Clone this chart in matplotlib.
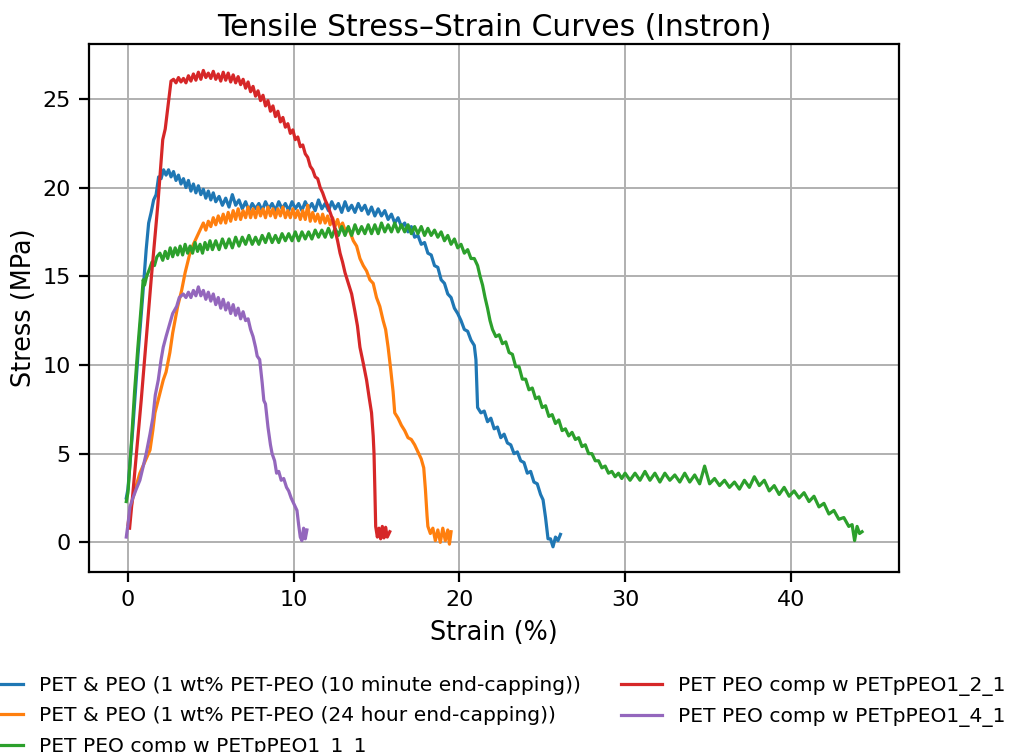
import matplotlib
matplotlib.use("Agg")
import matplotlib.pyplot as plt
import numpy as np

# Curves: (strain %, stress MPa)
blue = [
    (-0.1, 2.5), (0.0, 3.0), (0.3, 6.5), (0.6, 10.5), (0.9, 14.0), (1.1, 16.5), (1.25, 18.0),
    (1.4, 18.6), (1.55, 19.3), (1.7, 19.6), (1.85, 20.6), (2.0, 20.5), (2.15, 21.0), (2.3, 20.7),
    (2.45, 21.0), (2.6, 20.6), (2.75, 20.9), (2.9, 20.4), (3.05, 20.7), (3.2, 20.2), (3.35, 20.5),
    (3.5, 20.0), (3.65, 20.4), (3.8, 19.8), (3.95, 20.2), (4.1, 19.7), (4.25, 20.1), (4.4, 19.6),
    (4.55, 19.9), (4.7, 19.4), (4.85, 19.8), (5.0, 19.3), (5.15, 19.7), (5.3, 19.2), (5.5, 19.5),
    (5.7, 19.0), (5.9, 19.4), (6.1, 18.9), (6.3, 19.6), (6.5, 19.0), (6.7, 19.3), (6.9, 18.8),
    (7.1, 19.2), (7.3, 18.7), (7.5, 19.1), (7.7, 18.8), (7.9, 19.1), (8.1, 18.7), (8.3, 19.2),
    (8.5, 18.8), (8.7, 19.1), (8.9, 18.7), (9.1, 19.2), (9.3, 18.8), (9.5, 19.1), (9.7, 18.7),
    (9.9, 19.2), (10.1, 18.8), (10.3, 19.1), (10.5, 18.7), (10.7, 19.2), (10.9, 18.8), (11.1, 19.1),
    (11.3, 18.7), (11.5, 19.3), (11.7, 18.8), (11.9, 19.1), (12.1, 18.7), (12.3, 19.2), (12.5, 18.8),
    (12.7, 19.1), (12.9, 18.6), (13.1, 19.2), (13.3, 18.7), (13.5, 19.0), (13.7, 18.6), (13.9, 19.1),
    (14.1, 18.7), (14.3, 19.0), (14.5, 18.5), (14.7, 18.9), (14.9, 18.4), (15.1, 18.8), (15.3, 18.4),
    (15.5, 18.7), (15.7, 18.2), (15.9, 18.5), (16.1, 18.0), (16.3, 18.3), (16.5, 17.8), (16.7, 18.0),
    (16.9, 17.5), (17.1, 17.8), (17.3, 17.2), (17.5, 17.3), (17.7, 16.8), (17.9, 16.9), (18.1, 16.3),
    (18.3, 16.2), (18.5, 15.6), (18.7, 15.5), (18.9, 14.8), (19.1, 14.6), (19.3, 14.0), (19.5, 13.8),
    (19.7, 13.2), (19.9, 12.9), (20.1, 12.5), (20.3, 12.0), (20.5, 11.9), (20.7, 11.4), (20.9, 11.1),
    (21.0, 10.3), (21.05, 9.0), (21.1, 7.6), (21.3, 7.3), (21.5, 7.4), (21.7, 6.8), (21.9, 7.0),
    (22.1, 6.4), (22.3, 6.5), (22.5, 5.9), (22.7, 6.1), (22.9, 5.6), (23.1, 5.5), (23.3, 5.0),
    (23.5, 5.1), (23.7, 4.6), (23.9, 4.5), (24.1, 3.9), (24.3, 4.0), (24.5, 3.4), (24.7, 3.3),
    (24.9, 2.7), (25.05, 2.4), (25.2, 1.4), (25.35, 0.2), (25.5, 0.2), (25.65, -0.25), (25.8, 0.3),
    (25.95, 0.1), (26.1, 0.45),
]

orange = [
    (0.0, 1.0), (0.1, 1.6), (0.3, 2.5), (0.5, 3.2), (0.72, 3.9), (1.0, 4.5), (1.33, 5.2), (1.5, 6.3),
    (1.63, 7.3), (1.9, 8.3), (2.13, 9.15), (2.3, 9.6), (2.53, 10.7), (2.7, 11.8), (2.84, 12.5),
    (3.0, 13.3), (3.24, 14.2), (3.45, 15.2), (3.74, 16.3), (3.95, 16.8), (4.15, 17.2), (4.35, 17.6),
    (4.55, 18.0), (4.7, 17.6), (4.85, 18.1), (5.0, 17.8), (5.15, 18.3), (5.3, 17.9), (5.45, 18.4),
    (5.6, 18.0), (5.75, 18.5), (5.9, 18.0), (6.05, 18.6), (6.2, 18.1), (6.35, 18.7), (6.5, 18.2),
    (6.65, 18.8), (6.8, 18.2), (6.95, 18.7), (7.1, 18.3), (7.25, 18.9), (7.4, 18.3), (7.55, 18.8),
    (7.7, 18.3), (7.85, 18.9), (8.0, 18.4), (8.15, 18.8), (8.3, 18.3), (8.45, 18.9), (8.6, 18.4),
    (8.75, 18.8), (8.9, 18.3), (9.05, 18.8), (9.2, 18.4), (9.35, 18.9), (9.5, 18.3), (9.65, 18.7),
    (9.8, 18.3), (9.95, 18.8), (10.1, 18.3), (10.25, 18.7), (10.4, 18.2), (10.55, 18.7), (10.7, 18.2),
    (10.85, 19.0), (11.0, 18.1), (11.15, 18.6), (11.3, 18.1), (11.45, 18.5), (11.6, 18.0),
    (11.75, 18.5), (11.9, 18.0), (12.05, 18.4), (12.2, 17.9), (12.35, 18.3), (12.5, 17.8),
    (12.65, 18.2), (12.8, 17.7), (12.95, 18.0), (13.1, 17.6), (13.25, 17.7), (13.4, 17.5),
    (13.6, 17.0), (13.8, 16.7), (14.0, 16.0), (14.2, 15.6), (14.4, 15.3), (14.6, 14.8), (14.8, 14.6),
    (15.0, 13.8), (15.2, 13.3), (15.4, 12.5), (15.55, 12.0), (15.7, 11.0), (15.85, 9.8), (16.0, 8.5),
    (16.1, 7.3), (16.3, 7.0), (16.5, 6.6), (16.7, 6.3), (16.9, 5.9), (17.1, 5.8), (17.3, 5.5),
    (17.5, 5.1), (17.7, 4.7), (17.85, 4.2), (17.95, 3.0), (18.05, 1.5), (18.1, 0.9), (18.25, 0.5),
    (18.4, 0.8), (18.55, 0.1), (18.7, 0.7), (18.85, 0.0), (19.0, 0.8), (19.15, 0.1), (19.3, 0.7),
    (19.4, -0.1), (19.5, 0.6),
]

green = [
    (-0.1, 2.3), (0.0, 2.8), (0.2, 5.5), (0.4, 8.5), (0.6, 11.0), (0.8, 13.3), (0.92, 14.8),
    (1.0, 14.5), (1.13, 15.0), (1.3, 15.4), (1.45, 15.8), (1.6, 15.6), (1.75, 16.1), (1.93, 16.3),
    (2.1, 15.9), (2.25, 16.4), (2.4, 16.0), (2.55, 16.6), (2.7, 16.1), (2.85, 16.6), (3.0, 16.2),
    (3.15, 16.7), (3.3, 16.2), (3.45, 16.8), (3.6, 16.3), (3.75, 16.7), (3.9, 16.3), (4.05, 16.9),
    (4.2, 16.4), (4.35, 16.8), (4.5, 16.3), (4.65, 16.9), (4.8, 16.5), (4.95, 17.0), (5.1, 16.5),
    (5.3, 17.0), (5.5, 16.5), (5.7, 17.1), (5.9, 16.6), (6.1, 17.1), (6.3, 16.6), (6.5, 17.2),
    (6.7, 16.7), (6.9, 17.2), (7.1, 16.8), (7.3, 17.3), (7.5, 16.8), (7.7, 17.2), (7.9, 16.8),
    (8.1, 17.3), (8.3, 16.9), (8.5, 17.4), (8.7, 16.9), (8.9, 17.3), (9.1, 16.9), (9.3, 17.4),
    (9.5, 17.0), (9.7, 17.4), (9.9, 17.0), (10.1, 17.5), (10.3, 17.0), (10.5, 17.5), (10.7, 17.1),
    (10.9, 17.5), (11.1, 17.1), (11.3, 17.6), (11.5, 17.2), (11.7, 17.6), (11.9, 17.2), (12.1, 17.7),
    (12.3, 17.2), (12.5, 17.7), (12.7, 17.3), (12.9, 17.8), (13.1, 17.3), (13.3, 17.8), (13.5, 17.3),
    (13.7, 17.9), (13.9, 17.4), (14.1, 17.8), (14.3, 17.4), (14.5, 17.9), (14.7, 17.4), (14.9, 17.9),
    (15.1, 17.4), (15.3, 18.0), (15.5, 17.5), (15.7, 17.9), (15.9, 17.5), (16.1, 18.0), (16.3, 17.5),
    (16.5, 17.9), (16.7, 17.5), (16.9, 17.9), (17.1, 17.4), (17.3, 17.8), (17.5, 17.4), (17.7, 17.8),
    (17.9, 17.3), (18.1, 17.7), (18.3, 17.3), (18.5, 17.6), (18.7, 17.2), (18.9, 17.5), (19.1, 17.0),
    (19.3, 17.3), (19.5, 16.8), (19.7, 17.1), (19.9, 16.6), (20.1, 16.8), (20.3, 16.3), (20.5, 16.5),
    (20.7, 16.0), (20.9, 16.0), (21.1, 15.6), (21.25, 15.0), (21.4, 14.5), (21.55, 13.8),
    (21.7, 13.2), (21.85, 12.5), (22.0, 12.0), (22.2, 11.6), (22.4, 11.7), (22.6, 11.2), (22.8, 11.3),
    (23.0, 10.7), (23.2, 10.6), (23.4, 9.9), (23.6, 9.9), (23.8, 9.2), (24.0, 9.2), (24.2, 8.6),
    (24.4, 8.7), (24.6, 8.1), (24.8, 8.2), (25.0, 7.6), (25.2, 7.7), (25.4, 7.1), (25.6, 7.2),
    (25.8, 6.7), (26.0, 6.9), (26.2, 6.3), (26.4, 6.4), (26.6, 6.0), (26.8, 6.2), (27.0, 5.8),
    (27.2, 5.9), (27.4, 5.4), (27.6, 5.5), (27.8, 5.0), (28.0, 5.0), (28.2, 4.6), (28.4, 4.6),
    (28.6, 4.2), (28.8, 4.3), (29.0, 3.9), (29.2, 4.0), (29.4, 3.7), (29.6, 3.9), (29.8, 3.6),
    (30.0, 3.9), (30.3, 3.5), (30.6, 3.9), (30.9, 3.5), (31.2, 4.0), (31.5, 3.5), (31.8, 3.9),
    (32.1, 3.4), (32.4, 3.9), (32.7, 3.5), (33.0, 3.8), (33.3, 3.4), (33.6, 3.9), (33.9, 3.4),
    (34.2, 3.8), (34.5, 3.3), (34.8, 4.3), (35.1, 3.3), (35.4, 3.6), (35.7, 3.2), (36.0, 3.5),
    (36.3, 3.1), (36.6, 3.4), (36.9, 3.0), (37.2, 3.5), (37.5, 3.1), (37.8, 3.7), (38.1, 3.2),
    (38.4, 3.5), (38.7, 2.9), (39.0, 3.2), (39.3, 2.7), (39.6, 3.1), (39.9, 2.6), (40.2, 2.9),
    (40.5, 2.5), (40.8, 2.8), (41.1, 2.3), (41.4, 2.6), (41.7, 2.0), (42.0, 2.2), (42.3, 1.6),
    (42.6, 1.8), (42.9, 1.3), (43.2, 1.4), (43.5, 0.9), (43.7, 1.0), (43.85, 0.1), (44.0, 0.9),
    (44.15, 0.5), (44.3, 0.6),
]

red = [
    (0.1, 0.8), (0.3, 2.8), (0.8, 8.0), (1.4, 14.8), (1.8, 19.0), (2.1, 22.7), (2.25, 23.3),
    (2.6, 26.0), (2.75, 26.1), (2.9, 25.9), (3.05, 26.2), (3.2, 25.95), (3.35, 26.15), (3.5, 25.9),
    (3.65, 26.3), (3.8, 26.0), (3.95, 26.4), (4.1, 26.05), (4.25, 26.5), (4.4, 26.1), (4.55, 26.6),
    (4.7, 26.2), (4.85, 26.45), (5.0, 26.15), (5.15, 26.55), (5.3, 26.1), (5.45, 26.4), (5.6, 26.0),
    (5.75, 26.5), (5.9, 26.05), (6.05, 26.45), (6.2, 25.95), (6.35, 26.35), (6.5, 25.9),
    (6.65, 26.25), (6.8, 25.8), (6.95, 26.1), (7.1, 25.6), (7.25, 25.95), (7.4, 25.4), (7.55, 25.7),
    (7.7, 25.15), (7.85, 25.45), (8.0, 24.9), (8.15, 25.2), (8.3, 24.6), (8.45, 24.9), (8.6, 24.3),
    (8.75, 24.6), (8.9, 24.0), (9.05, 24.3), (9.2, 23.7), (9.35, 23.95), (9.5, 23.4), (9.65, 23.6),
    (9.8, 23.05), (9.95, 23.25), (10.1, 22.7), (10.25, 22.85), (10.4, 22.3), (10.55, 22.4),
    (10.7, 21.9), (10.85, 21.7), (11.0, 21.2), (11.15, 21.0), (11.3, 20.6), (11.45, 20.5),
    (11.6, 20.0), (11.75, 19.7), (11.9, 19.3), (12.05, 19.0), (12.2, 18.6), (12.35, 18.2),
    (12.5, 17.6), (12.65, 17.0), (12.8, 16.3), (12.95, 15.8), (13.1, 15.2), (13.3, 14.6),
    (13.5, 14.0), (13.7, 13.0), (13.85, 12.2), (14.0, 11.0), (14.2, 10.1), (14.4, 9.15),
    (14.55, 8.2), (14.7, 7.3), (14.8, 6.0), (14.85, 5.0), (14.9, 3.0), (14.95, 0.9), (15.05, 0.3),
    (15.15, 0.8), (15.25, 0.2), (15.35, 0.9), (15.45, 0.25), (15.55, 0.85), (15.65, 0.3), (15.8, 0.6),
]

purple = [
    (-0.1, 0.3), (0.0, 1.0), (0.12, 2.0), (0.3, 2.5), (0.5, 3.0), (0.72, 3.5), (0.9, 4.2),
    (1.1, 5.0), (1.33, 6.1), (1.5, 7.0), (1.65, 8.3), (1.83, 9.15), (2.0, 10.3), (2.13, 11.0),
    (2.3, 11.6), (2.53, 12.35), (2.7, 12.9), (2.94, 13.3), (3.1, 13.8), (3.34, 14.0), (3.5, 13.8),
    (3.65, 14.1), (3.8, 13.8), (3.95, 14.2), (4.1, 13.9), (4.25, 14.4), (4.4, 13.9), (4.55, 14.2),
    (4.7, 13.7), (4.85, 14.1), (5.0, 13.6), (5.15, 14.0), (5.3, 13.4), (5.45, 13.8), (5.6, 13.2),
    (5.75, 13.7), (5.9, 13.1), (6.05, 13.5), (6.2, 12.9), (6.35, 13.4), (6.5, 12.8), (6.65, 13.2),
    (6.8, 12.6), (6.95, 13.0), (7.1, 12.5), (7.25, 12.6), (7.4, 12.0), (7.55, 11.6), (7.7, 11.0),
    (7.8, 10.5), (7.95, 10.3), (8.1, 9.0), (8.2, 8.0), (8.3, 7.8), (8.45, 6.5), (8.6, 5.5),
    (8.7, 5.0), (8.85, 4.6), (8.97, 3.9), (9.1, 4.0), (9.25, 3.5), (9.4, 3.6), (9.57, 3.1),
    (9.7, 2.9), (9.85, 2.5), (10.0, 2.2), (10.2, 1.8), (10.3, 1.0), (10.4, 0.3), (10.5, 0.1),
    (10.6, 0.8), (10.7, 0.2), (10.8, 0.7),
]

labels = [
    "PET & PEO (1 wt% PET-PEO (10 minute end-capping))",
    "PET & PEO (1 wt% PET-PEO (24 hour end-capping))",
    "PET PEO comp w PETpPEO1_1_1",
    "PET PEO comp w PETpPEO1_2_1",
    "PET PEO comp w PETpPEO1_4_1",
]
series = [blue, orange, green, red, purple]

plt.rcParams["font.family"] = "DejaVu Sans"
fig = plt.figure(figsize=(10.11, 7.52), dpi=100)
ax = fig.add_axes([89 / 1011, 1 - 572 / 752, 810 / 1011, 528 / 752])

for pts, label in zip(series, labels):
    pts = np.array(pts)
    ax.plot(pts[:, 0], pts[:, 1], lw=2.3, label=label)

ax.set_xlim(-2.35, 46.53)
ax.set_ylim(-1.67, 28.09)
ax.grid(True, color="#b0b0b0", lw=1.4)
ax.set_axisbelow(True)
for s in ax.spines.values():
    s.set_linewidth(1.6)
ax.tick_params(labelsize=16, length=7, width=1.6, pad=6)
ax.set_xlabel("Strain (%)", fontsize=18.4, labelpad=7)
ax.set_ylabel("Stress (MPa)", fontsize=18.4)
ax.set_title("Tensile Stress\u2013Strain Curves (Instron)", fontsize=21.4)

# Legend below the axes, wider than the canvas as in the source figure
ax.legend(loc="upper center", bbox_to_anchor=(0.5, -0.163), ncol=2, frameon=False,
          fontsize=14.6, labelspacing=0.55)

fig.savefig("out.png", dpi=100)
